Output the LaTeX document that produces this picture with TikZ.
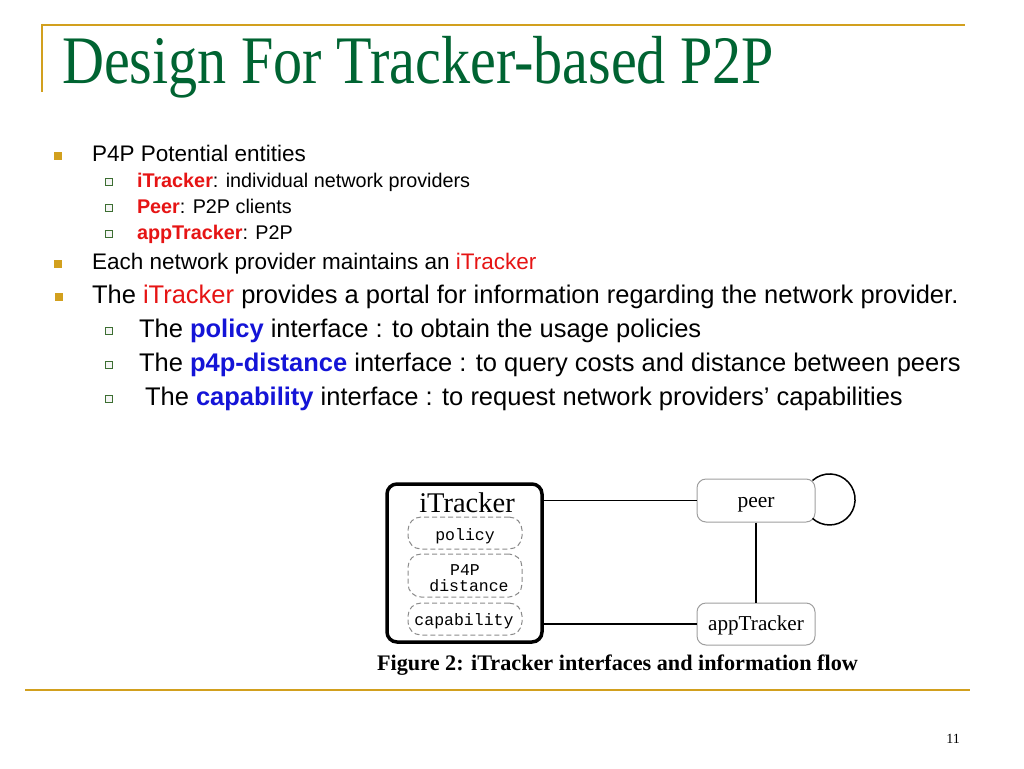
\documentclass[tikz,border=0pt]{standalone}
\usepackage{fontspec}
\usepackage{graphicx}
\setmainfont{Liberation Serif}
\setsansfont{Liberation Sans}
\setmonofont{Liberation Mono}
\usetikzlibrary{calc}
\definecolor{gold}{RGB}{210,160,30}
\definecolor{titlegreen}{RGB}{0,100,50}
\definecolor{hlred}{RGB}{230,20,20}
\definecolor{hlblue}{RGB}{20,20,215}
\definecolor{bulgreen}{RGB}{60,110,50}
\begin{document}
\begin{tikzpicture}[x=1pt,y=-1pt,
  txt/.style={anchor=base west, inner sep=0pt, outer sep=0pt, font=\sffamily},
  szA/.style={font=\sffamily\fontsize{22.5}{26}\selectfont},
  szB/.style={font=\sffamily\fontsize{19.8}{23}\selectfont},
  szC/.style={font=\sffamily\fontsize{25.5}{30}\selectfont},
  bulA/.style={fill=gold, minimum width=8.5pt, minimum height=8pt, inner sep=0pt, draw=none},
  bulB/.style={draw=bulgreen, fill=gray!8, line width=0.9pt, minimum size=6.5pt, inner sep=0pt},
  bulC/.style={draw=bulgreen, fill=gray!8, line width=1pt, minimum size=7.5pt, inner sep=0pt},
  rl/.style={draw=gold, line width=2pt},
  dbox/.style={draw=gray!90, dash pattern=on 5pt off 3pt, line width=1pt, rounded corners=13pt, inner sep=0pt},
  ebox/.style={draw=gray!75, line width=1pt, rounded corners=9pt, inner sep=0pt},
  conn/.style={draw=black, line width=1.5pt},
  mono/.style={inner sep=0pt, anchor=base, font=\ttfamily\fontsize{16.5}{18}\selectfont},
]
\useasboundingbox (0,0) rectangle (1024,768);
\fill[white] (0,0) rectangle (1024,768);

% frame rules
\draw[rl] (42,25) -- (965,25);
\draw[rl] (42,24) -- (42,92);
\draw[rl, line width=2.5pt] (25,690) -- (970,690);

% title
\node[anchor=base west, inner sep=0pt, text=titlegreen, font=\fontsize{68}{72}\selectfont] (title) at (62,83) {\scalebox{0.855}[1]{Design For Tracker-based P2P}};

% bullets
\node[bulA] (b1) at (58,156) {};
\node[bulB] (s1) at (109,182) {};
\node[bulB] (s2) at (109,208) {};
\node[bulB] (s3) at (109,234) {};
\node[bulA] (b2) at (58,264) {};
\node[bulA] (b3) at (59,297) {};
\node[bulC] (s4) at (109,331) {};
\node[bulC] (s5) at (109,365) {};
\node[bulC] (s6) at (109,399) {};

% texts
\node[txt, szA] (t1) at (92,161) {P4P Potential entities};
\node[txt, szB] (t2) at (137,187) {\textbf{\color{hlred}iTracker}: individual network providers};
\node[txt, szB] (t3) at (137,213) {\textbf{\color{hlred}Peer}: P2P clients};
\node[txt, szB] (t4) at (137,239) {\textbf{\color{hlred}appTracker}: P2P};
\node[txt, szA] (t5) at (92,269) {Each network provider maintains an {\color{hlred}iTracker}};
\node[txt, szC] (t6) at (92,303) {The {\color{hlred}iTracker} provides a portal for information regarding the network provider.};
\node[txt, szC] (t7) at (139,337) {The \textbf{\color{hlblue}policy} interface : to obtain the usage policies};
\node[txt, szC] (t8) at (139,371) {The \textbf{\color{hlblue}p4p-distance} interface : to query costs and distance between peers};
\node[txt, szC] (t9) at (145,405) {The \textbf{\color{hlblue}capability} interface : to request network providers’ capabilities};

% diagram
\node[draw=black, line width=3.5pt, rounded corners=10pt, minimum width=155pt, minimum height=158pt, inner sep=0pt] (itr) at (464.5,563) {};
\node[anchor=base, inner sep=0pt, font=\fontsize{28.5}{30}\selectfont] (itrl) at (467,512) {iTracker};
\node[dbox, minimum width=114pt, minimum height=32pt] (pol) at (465,533) {};
\node[dbox, minimum width=114pt, minimum height=43pt] (dist) at (465,575.5) {};
\node[dbox, minimum width=114pt, minimum height=32pt] (cap) at (465,619) {};
\node[mono] (poll) at (465,540) {policy};
\node[mono] (distl1) at (465,575) {P4P};
\node[mono] (distl2) at (469,591.5) {distance};
\node[mono] (capl) at (464,625) {capability};

\node[ebox, minimum width=118pt, minimum height=43pt] (peer) at (756,500.5) {};
\node[anchor=base, inner sep=0pt, font=\fontsize{21.5}{24}\selectfont] (peerl) at (756,507) {peer};
\node[ebox, minimum width=118pt, minimum height=42pt] (app) at (756,624) {};
\node[anchor=base, inner sep=0pt, font=\fontsize{21.2}{24}\selectfont] (appl) at (756,630) {appTracker};

\draw[conn] (itr.east |- peer.west) -- (peer.west);
\draw[conn] (itr.east |- app.west) -- (app.west);
\draw[conn] (peer.south) -- (app.north);
\draw[conn] ($(peer.north east)+(-3,2)$) arc[start angle=228, end angle=492, radius=25.5];

\node[anchor=base, inner sep=0pt, font=\bfseries\fontsize{22.2}{25}\selectfont] (caption) at (617.5,670) {Figure 2: iTracker interfaces and information flow};

\node[anchor=base, inner sep=0pt, font=\fontsize{14}{16}\selectfont] (pg) at (953,743) {11};
\end{tikzpicture}
\end{document}
